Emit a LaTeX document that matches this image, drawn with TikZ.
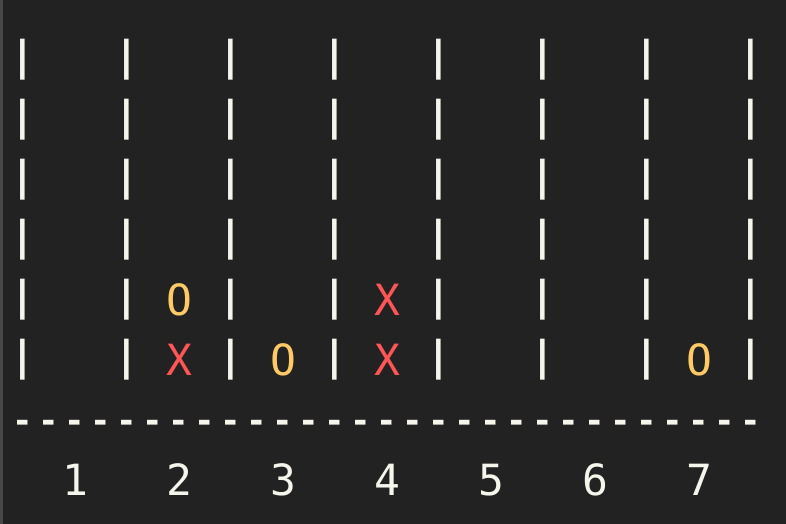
\documentclass[tikz,border=0pt]{standalone}
\usepackage{fontspec}
\newfontfamily\termfont{DejaVu Sans Mono}
\definecolor{termbg}{HTML}{222222}
\definecolor{termfg}{HTML}{F5F5EC}
\definecolor{termedge}{HTML}{484848}
\definecolor{pieceO}{HTML}{FFC965}
\definecolor{pieceX}{HTML}{FF5555}
\tikzset{
  cell/.style={inner sep=0pt,font=\termfont\fontsize{21.5}{21.5}\selectfont,text=termfg},
  wall/.style={cell,font=\termfont\bfseries\fontsize{20.5}{20.5}\selectfont},
  rule/.style={cell,font=\termfont\bfseries\fontsize{17}{17}\selectfont},
  tokO/.style={cell,text=pieceO},
  tokX/.style={cell,text=pieceX}
}
\begin{document}
\begin{tikzpicture}[x=0.5pt,y=-0.5pt]
\fill[termbg] (0,0) rectangle (786,524);
\useasboundingbox (0,0) rectangle (786,524);
\fill[termedge] (0,0) rectangle (2.5,524);

% colonnes du plateau
\foreach \i in {0,...,7}
  \foreach \r in {0,...,5}
    \node[wall] (bar\i\r) at ({23+104*\i},{60+60*\r}) {|};

% jetons
\node[tokO] (p25) at (179,300) {O};
\node[tokX] (p26) at (179,360) {X};
\node[tokO] (p36) at (283,360) {O};
\node[tokX] (p45) at (387,300) {X};
\node[tokX] (p46) at (387,360) {X};
\node[tokO] (p76) at (699,360) {O};

% ligne de base
\foreach \k in {0,...,28}
  \node[rule] (dash\k) at ({23+26*\k},426) {-};

\foreach \c in {1,...,7}
  \node[cell] (num\c) at ({75+104*(\c-1)},480) {\c};
\end{tikzpicture}
\end{document}
